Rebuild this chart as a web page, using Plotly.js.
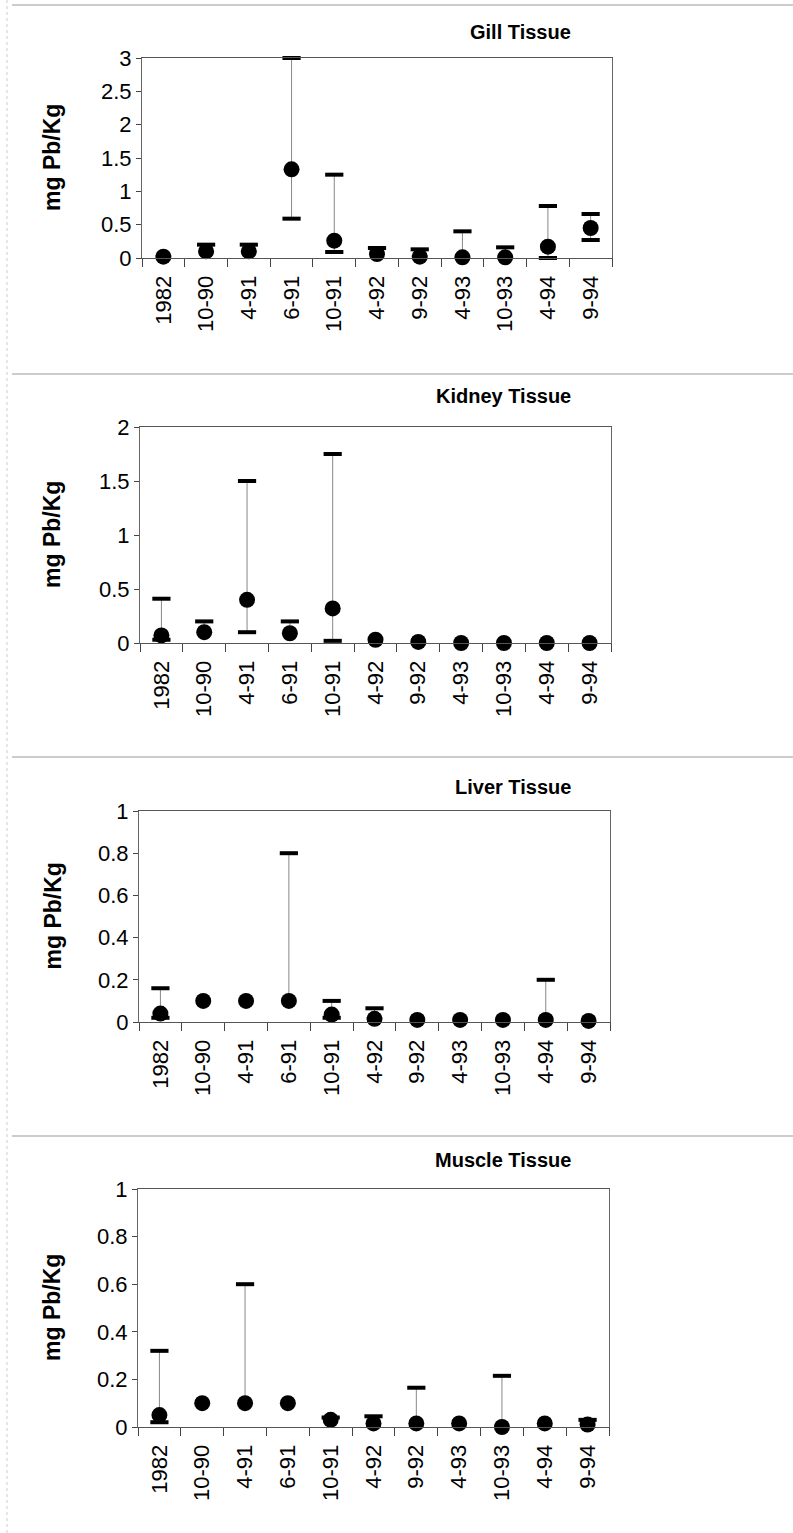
<!DOCTYPE html>
<html>
<head>
<meta charset="utf-8">
<script src="https://cdn.plot.ly/plotly-3.0.1.min.js"></script>
<style>html,body{margin:0;padding:0;background:#fff;}#chart{width:793px;height:1533px;}</style>
</head>
<body>
<div id="chart"></div>
<script>
// ---- data ----
const categories = ['1982','10-90','4-91','6-91','10-91','4-92','9-92','4-93','10-93','4-94','9-94'];

const gillMean = [0.02, 0.10, 0.10, 1.33, 0.26, 0.06, 0.02, 0.01, 0.01, 0.17, 0.45];
const gillHigh = [null, 0.20, 0.20, 3.00, 1.25, 0.15, 0.13, 0.40, 0.16, 0.78, 0.66];
const gillLow  = [null, null, null, 0.59, 0.09, null, null, null, null, 0.00, 0.27];

const kidneyMean = [0.07, 0.10, 0.40, 0.09, 0.32, 0.03, 0.01, 0.00, 0.00, 0.00, 0.00];
const kidneyHigh = [0.41, 0.20, 1.50, 0.20, 1.75, null, null, null, null, null, null];
const kidneyLow  = [0.03, null, 0.10, null, 0.02, null, null, null, null, null, null];

const liverMean = [0.04, 0.10, 0.10, 0.10, 0.035, 0.015, 0.01, 0.01, 0.01, 0.01, 0.005];
const liverHigh = [0.16, null, null, 0.80, 0.10, 0.065, null, null, null, 0.20, null];
const liverLow  = [0.02, null, null, null, 0.02, null, null, null, null, null, null];

const muscleMean = [0.05, 0.10, 0.10, 0.10, 0.03, 0.015, 0.015, 0.015, 0.00, 0.015, 0.01];
const muscleHigh = [0.32, null, 0.60, null, 0.04, 0.045, 0.165, null, 0.215, null, 0.03];
const muscleLow  = [0.02, null, null, null, null, null, null, null, null, null, null];

const panelTitles = ['Gill Tissue','Kidney Tissue','Liver Tissue','Muscle Tissue'];
const yLabel = 'mg Pb/Kg';
const yMax = [3, 2, 1, 1];
const yDtick = [0.5, 0.5, 0.2, 0.2];

// ---- layout geometry (pixels) ----
const W = 793, H = 1533;
const panels = [
  {mean: gillMean,   high: gillHigh,   low: gillLow,   x0:142, x1:612, yt:58,   yb:258,  ty:32},
  {mean: kidneyMean, high: kidneyHigh, low: kidneyLow, x0:140, x1:611, yt:427,  yb:643,  ty:396},
  {mean: liverMean,  high: liverHigh,  low: liverLow,  x0:139, x1:610, yt:811,  yb:1022, ty:787},
  {mean: muscleMean, high: muscleHigh, low: muscleLow, x0:138, x1:609, yt:1189, yb:1427, ty:1160}
];

const FONT = '"Liberation Sans", Arial, Helvetica, sans-serif';
const traces = [];
const layout = {
  width: W, height: H,
  margin: {l:0, r:0, t:0, b:0},
  paper_bgcolor: '#fff', plot_bgcolor: '#fff',
  showlegend: false,
  font: {family: FONT, color: '#000'},
  annotations: [], shapes: []
};

panels.forEach((p, i) => {
  const n = i === 0 ? '' : String(i + 1);
  const xa = 'x' + n, ya = 'y' + n;
  const plus = p.mean.map((m, k) => p.high[k] == null ? 0 : p.high[k] - m);
  const minus = p.mean.map((m, k) => p.low[k] == null ? 0 : m - p.low[k]);

  traces.push({
    type: 'scatter', mode: 'markers', x: categories, y: p.mean, xaxis: xa, yaxis: ya,
    cliponaxis: false,
    marker: {color: '#000', size: 16, symbol: 'circle'},
    error_y: {type: 'data', symmetric: false, array: plus, arrayminus: minus,
              color: '#888', thickness: 1, width: 0}
  });
  traces.push({
    type: 'scatter', mode: 'markers', x: categories, y: p.high, xaxis: xa, yaxis: ya,
    cliponaxis: false,
    marker: {symbol: 'line-ew', size: 13, color: '#000', line: {color: '#000', width: 4}}
  });
  traces.push({
    type: 'scatter', mode: 'markers', x: categories, y: p.low, xaxis: xa, yaxis: ya,
    cliponaxis: false,
    marker: {symbol: 'line-ew', size: 13, color: '#000', line: {color: '#000', width: 4}}
  });

  layout['xaxis' + n] = {
    domain: [p.x0 / W, p.x1 / W], anchor: ya,
    type: 'category', range: [-0.5, categories.length - 0.5],
    tickson: 'boundaries', ticks: 'outside', ticklen: 8, tickcolor: '#444', tickwidth: 1,
    ticklabelstandoff: 8,
    tickangle: -90, tickfont: {size: 22, family: FONT, color: '#000'},
    showline: true, linecolor: '#555', linewidth: 1, mirror: true,
    showgrid: false, zeroline: false, fixedrange: true
  };
  layout['yaxis' + n] = {
    domain: [1 - p.yb / H, 1 - p.yt / H], anchor: xa,
    range: [0, yMax[i]], dtick: yDtick[i], tick0: 0,
    ticks: 'outside', ticklen: 5, tickcolor: '#444', tickwidth: 1,
    tickfont: {size: 22, family: FONT, color: '#000'},
    showline: true, linecolor: '#666', linewidth: 1, mirror: true,
    showgrid: false, zeroline: false, fixedrange: true
  };

  layout.annotations.push({
    xref: 'paper', yref: 'paper', x: 573 / W, y: 1 - p.ty / H,
    xanchor: 'right', yanchor: 'middle', showarrow: false,
    text: '<b>' + panelTitles[i] + '</b>', font: {size: 20, family: FONT, color: '#000'}
  });
  layout.annotations.push({
    xref: 'paper', yref: 'paper', x: 52 / W, y: 1 - ((p.yt + p.yb) / 2) / H,
    xanchor: 'center', yanchor: 'middle', showarrow: false, textangle: -90,
    text: '<b>' + yLabel + '</b>', font: {size: 23, family: FONT, color: '#000'}
  });
});

// panel separators
[5, 374, 757, 1136].forEach(py => {
  layout.shapes.push({type: 'line', xref: 'paper', yref: 'paper',
    x0: 12 / W, x1: 1, y0: 1 - py / H, y1: 1 - py / H,
    line: {color: '#999', width: 1}});
});
layout.shapes.push({type: 'line', xref: 'paper', yref: 'paper',
  x0: 7 / W, x1: 7 / W, y0: 0, y1: 1, line: {color: '#ccc', width: 1, dash: 'dot'}});

Plotly.newPlot('chart', traces, layout, {staticPlot: true, displayModeBar: false});
</script>
</body>
</html>
